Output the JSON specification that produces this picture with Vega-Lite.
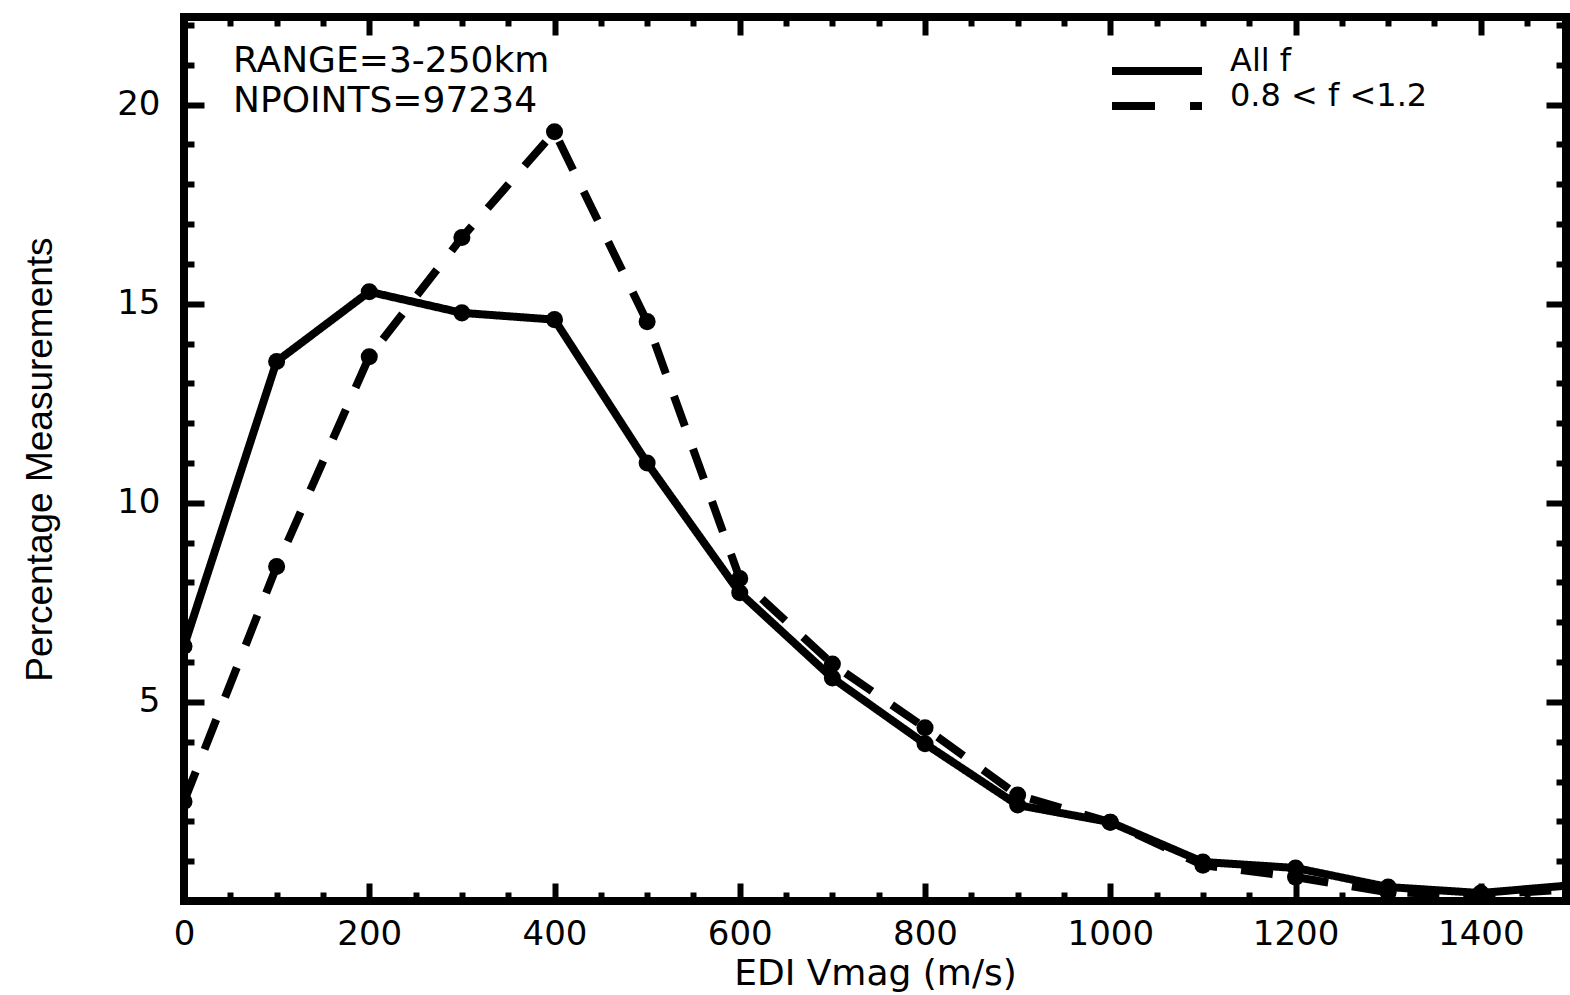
{
  "$schema": "https://vega.github.io/schema/vega-lite/v6.json",
  "width": 1382,
  "height": 884,
  "autosize": {"type": "none"},
  "padding": {"left": 184, "top": 17, "right": 4, "bottom": 94},
  "background": "white",
  "config": {
    "view": {"stroke": "black", "strokeWidth": 8},
    "axis": {
      "domain": false,
      "grid": false,
      "tickColor": "black",
      "tickWidth": 6,
      "labelColor": "black",
      "labelFont": "DejaVu Sans",
      "labelFontSize": 34,
      "titleFont": "DejaVu Sans",
      "titleColor": "black",
      "titleFontWeight": "normal"
    }
  },
  "title": {
    "text": ["RANGE=3-250km", "NPOINTS=97234"],
    "anchor": "start",
    "frame": "group",
    "orient": "top",
    "baseline": "top",
    "offset": -30,
    "dx": 49,
    "dy": 82,
    "font": "DejaVu Sans",
    "fontSize": 36,
    "fontWeight": "normal",
    "color": "black",
    "lineHeight": 40
  },
  "datasets": {
    "curves": [
      {"vmag": 0, "pct": 6.4, "series": "All f"},
      {"vmag": 100, "pct": 13.55, "series": "All f"},
      {"vmag": 200, "pct": 15.3, "series": "All f"},
      {"vmag": 300, "pct": 14.77, "series": "All f"},
      {"vmag": 400, "pct": 14.6, "series": "All f"},
      {"vmag": 500, "pct": 11.0, "series": "All f"},
      {"vmag": 600, "pct": 7.74, "series": "All f"},
      {"vmag": 700, "pct": 5.6, "series": "All f"},
      {"vmag": 800, "pct": 3.95, "series": "All f"},
      {"vmag": 900, "pct": 2.41, "series": "All f"},
      {"vmag": 1000, "pct": 1.98, "series": "All f"},
      {"vmag": 1100, "pct": 0.98, "series": "All f"},
      {"vmag": 1200, "pct": 0.83, "series": "All f"},
      {"vmag": 1300, "pct": 0.35, "series": "All f"},
      {"vmag": 1400, "pct": 0.2, "series": "All f"},
      {"vmag": 1500, "pct": 0.4, "series": "All f"},
      {"vmag": 0, "pct": 2.5, "series": "0.8 < f <1.2"},
      {"vmag": 100, "pct": 8.4, "series": "0.8 < f <1.2"},
      {"vmag": 200, "pct": 13.67, "series": "0.8 < f <1.2"},
      {"vmag": 300, "pct": 16.66, "series": "0.8 < f <1.2"},
      {"vmag": 400, "pct": 19.32, "series": "0.8 < f <1.2"},
      {"vmag": 500, "pct": 14.55, "series": "0.8 < f <1.2"},
      {"vmag": 600, "pct": 8.1, "series": "0.8 < f <1.2"},
      {"vmag": 700, "pct": 5.95, "series": "0.8 < f <1.2"},
      {"vmag": 800, "pct": 4.35, "series": "0.8 < f <1.2"},
      {"vmag": 900, "pct": 2.66, "series": "0.8 < f <1.2"},
      {"vmag": 1000, "pct": 1.98, "series": "0.8 < f <1.2"},
      {"vmag": 1100, "pct": 0.9, "series": "0.8 < f <1.2"},
      {"vmag": 1200, "pct": 0.6, "series": "0.8 < f <1.2"},
      {"vmag": 1300, "pct": 0.22, "series": "0.8 < f <1.2"},
      {"vmag": 1400, "pct": 0.15, "series": "0.8 < f <1.2"},
      {"vmag": 1500, "pct": 0.3, "series": "0.8 < f <1.2"}
    ]
  },
  "layer": [
    {
      "data": {"name": "curves"},
      "mark": {"type": "line", "strokeWidth": 8, "clip": true, "color": "black", "strokeCap": "butt"},
      "encoding": {
        "x": {
          "field": "vmag", "type": "quantitative",
          "scale": {"domain": [0, 1492], "nice": false, "zero": false},
          "axis": {
            "orient": "bottom",
            "title": "EDI Vmag (m/s)",
            "titleFontSize": 36,
            "titlePadding": -4,
            "values": [0,50,100,150,200,250,300,350,400,450,500,550,600,650,700,750,800,850,900,950,1000,1050,1100,1150,1200,1250,1300,1350,1400,1450],
            "labelExpr": "datum.value % 200 === 0 ? datum.label : ''",
            "format": "d",
            "tickSize": {"condition": {"test": "datum.value % 200 === 0", "value": -18}, "value": -9},
            "labelPadding": 34,
            "labelFlush": false,
            "labelOverlap": false
          }
        },
        "y": {
          "field": "pct", "type": "quantitative",
          "scale": {"domain": [0, 22.2], "nice": false, "zero": false},
          "axis": {
            "orient": "left",
            "title": "Percentage Measurements",
            "titleFont": "Liberation Sans",
            "titleFontSize": 37,
            "titlePadding": 57,
            "values": [0,1,2,3,4,5,6,7,8,9,10,11,12,13,14,15,16,17,18,19,20,21,22],
            "labelExpr": "datum.value % 5 === 0 && datum.value > 0 ? datum.label : ''",
            "format": "d",
            "tickSize": {"condition": {"test": "datum.value % 5 === 0", "value": -20}, "value": -10},
            "labelPadding": 44,
            "labelFlush": false,
            "labelOverlap": false
          }
        },
        "strokeDash": {
          "field": "series", "type": "nominal",
          "scale": {"domain": ["All f", "0.8 < f <1.2"], "range": [[1, 0], [32, 24]]},
          "legend": null
        }
      }
    },
    {
      "data": {"name": "curves"},
      "mark": {"type": "point", "filled": true, "size": 290, "color": "black", "opacity": 1, "clip": true},
      "encoding": {
        "x": {
          "field": "vmag", "type": "quantitative",
          "scale": {"domain": [0, 1492], "nice": false, "zero": false},
          "axis": {
            "orient": "top",
            "title": null,
            "labels": false,
            "values": [0,50,100,150,200,250,300,350,400,450,500,550,600,650,700,750,800,850,900,950,1000,1050,1100,1150,1200,1250,1300,1350,1400,1450],
            "tickSize": {"condition": {"test": "datum.value % 200 === 0", "value": -18}, "value": -9}
          }
        },
        "y": {
          "field": "pct", "type": "quantitative",
          "scale": {"domain": [0, 22.2], "nice": false, "zero": false},
          "axis": {
            "orient": "right",
            "title": null,
            "labels": false,
            "values": [0,1,2,3,4,5,6,7,8,9,10,11,12,13,14,15,16,17,18,19,20,21,22],
            "tickSize": {"condition": {"test": "datum.value % 5 === 0", "value": -20}, "value": -10}
          }
        }
      }
    },
    {
      "data": {"name": "curves"},
      "mark": {"type": "line", "strokeWidth": 8, "clip": true, "color": "black", "opacity": 0},
      "encoding": {
        "x": {"field": "vmag", "type": "quantitative", "axis": null},
        "y": {"field": "pct", "type": "quantitative", "axis": null},
        "strokeDash": {
          "field": "series", "type": "nominal",
          "scale": {"domain": ["All f", "0.8 < f <1.2"], "range": [[1, 0], [43, 35, 12, 200]]},
          "legend": {
            "orient": "none",
            "legendX": 954,
            "legendY": 35,
            "title": null,
            "padding": 0,
            "symbolType": "M-3,0H3",
            "symbolSize": 900,
            "symbolStrokeWidth": 8,
            "symbolStrokeColor": "black",
            "symbolFillColor": "transparent",
            "symbolOpacity": 1,
            "labelFont": "DejaVu Sans",
            "labelFontSize": 32,
            "labelColor": "black",
            "labelOffset": 54,
            "labelLimit": 500,
            "labelBaseline": "alphabetic",
            "rowPadding": -10
          }
        }
      }
    }
  ],
  "resolve": {
    "axis": {"x": "independent", "y": "independent"},
    "scale": {"strokeDash": "independent"}
  }
}
